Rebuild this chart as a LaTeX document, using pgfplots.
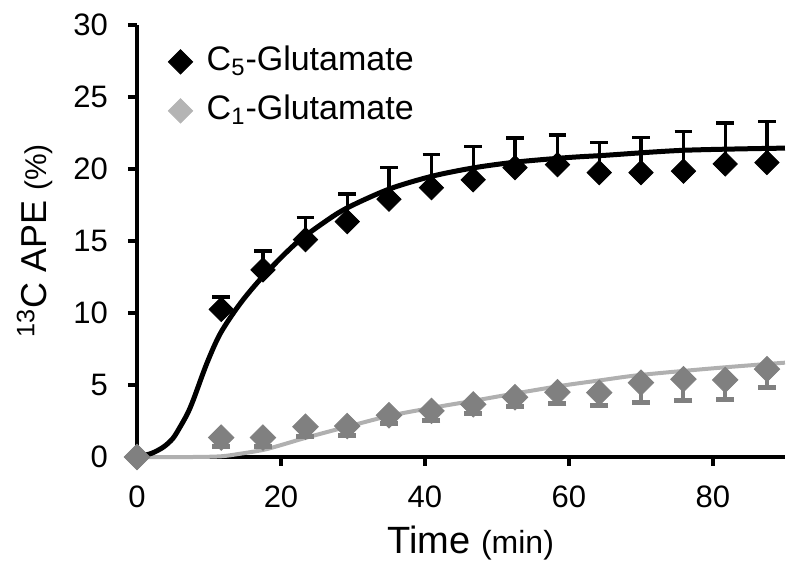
\documentclass[border=0pt]{standalone}
\usepackage{pgfplots}
\pgfplotsset{compat=1.18}
\usepackage{pgfplotstable}
\usepackage{fontspec}
\setmainfont{Liberation Sans}
\definecolor{gdata}{HTML}{808080}
\definecolor{gcurve}{HTML}{B0B0B0}
\definecolor{glegend}{HTML}{B4B4B4}

\pgfplotstableread{
t     v      e
0     0      0
11.7  10.25  0.85
17.5  13.0   1.3
23.4  15.1   1.55
29.2  16.35  1.9
35.0  17.9   2.2
40.9  18.7   2.3
46.7  19.25  2.3
52.5  20.1   2.05
58.4  20.3   2.05
64.2  19.75  2.1
70.0  19.75  2.45
75.9  19.85  2.75
81.7  20.35  2.85
87.5  20.45  2.85
}\blackdata

\pgfplotstableread{
t     v      e
0     0      0
11.7  1.35   0.65
17.5  1.35   0.65
23.4  2.1    0.65
29.2  2.15   0.65
35.0  2.9    0.6
40.9  3.2    0.65
46.7  3.65   0.65
52.5  4.15   0.65
58.4  4.5    0.8
64.2  4.47   0.87
70.0  5.16   1.36
75.9  5.4    1.5
81.7  5.35   1.35
87.5  6.1    1.25
}\graydata

\begin{document}
\begin{tikzpicture}
\path[use as bounding box] (0,0) rectangle (400pt,288pt);
\begin{axis}[
  at={(68.5pt,59.5pt)}, anchor=south west,
  scale only axis, width=324pt, height=216pt,
  xmin=0, xmax=90, ymin=0, ymax=30,
  axis x line*=bottom, axis y line*=left,
  axis line style={line width=2pt, black},
  xtick={0,20,40,60,80}, ytick={0,5,...,30},
  tick align=outside, major tick length=4.5pt,
  tick style={line width=2pt, black},
  ticklabel style={font=\fontsize{15.5}{15.5}\selectfont},
  xticklabel style={yshift=-6.5pt},
  yticklabel style={xshift=-6.5pt},
  /pgf/number format/assume math mode=true,
  clip=false,
  xlabel={\fontsize{19}{19}\selectfont Time {\fontsize{16}{16}\selectfont (min)}},
  xlabel style={at={(axis description cs:0.515,0)}, anchor=base, yshift=-48.5pt},
  ylabel={\fontsize{18}{18}\selectfont \textsuperscript{13}C APE {\fontsize{15}{15}\selectfont (\%)}},
  ylabel style={at={(axis description cs:-0.139,0.5)}, anchor=base},
  legend cell align=left,
  legend style={draw=none, fill=none, inner sep=0pt,
    at={(axis description cs:0,1)}, anchor=north west, xshift=15.5pt, yshift=-8.5pt,
    font=\fontsize{17}{17}\selectfont,
    nodes={text height=12pt, text depth=3.5pt, inner sep=2pt},
    column sep=5pt,
    row sep=5pt},
]
\addlegendimage{only marks, mark=square*, mark size=4.3pt, mark options={rotate=45}, black}
\addlegendentry{C\textsubscript{5}-Glutamate}
\addlegendimage{only marks, mark=square*, mark size=4.3pt, mark options={rotate=45}, glegend}
\addlegendentry{C\textsubscript{1}-Glutamate}

\addplot[only marks, black, mark=square*, mark size=4.3pt, mark options={rotate=45},
  error bars/.cd, y dir=plus, y explicit, error mark=|,
  error bar style={line width=1.7pt, black},
  error mark options={line width=1.7pt, mark size=4.4pt, black}]
  table[x=t, y=v, y error=e] {\blackdata};

\addplot[gcurve, line width=2pt, smooth, tension=0.5] coordinates {
(0,0) (8,0) (11.7,0.05) (14,0.2) (17.6,0.5) (20.5,0.9) (23.2,1.3) (26.9,1.8)
(29.2,2.1) (35,2.85) (40.8,3.4) (46.7,3.9) (52.4,4.4) (59,4.95) (64,5.3)
(70,5.7) (81,6.2) (90,6.55)};

\addplot[only marks, gdata, mark=square*, mark size=4.5pt, mark options={rotate=45},
  error bars/.cd, y dir=minus, y explicit, error mark=|,
  error bar style={line width=2pt, gdata},
  error mark options={line width=2.5pt, mark size=4.5pt, gdata}]
  table[x=t, y=v, y error=e] {\graydata};

\addplot[black, line width=2.5pt, smooth, tension=0.5] coordinates {
(0,0) (2,0.25) (3.7,0.7) (5,1.3) (6,2.1) (7,3.0) (7.85,4.0) (9.7,6.5)
(11.6,8.6) (14.4,10.7) (17.6,12.6) (22,14.8) (26,16.3) (29.2,17.3) (35,18.6)
(41,19.5) (47,20.1) (53,20.5) (60,20.8) (65,20.95) (76,21.3) (90,21.45)};
\end{axis}
\end{tikzpicture}
\end{document}
